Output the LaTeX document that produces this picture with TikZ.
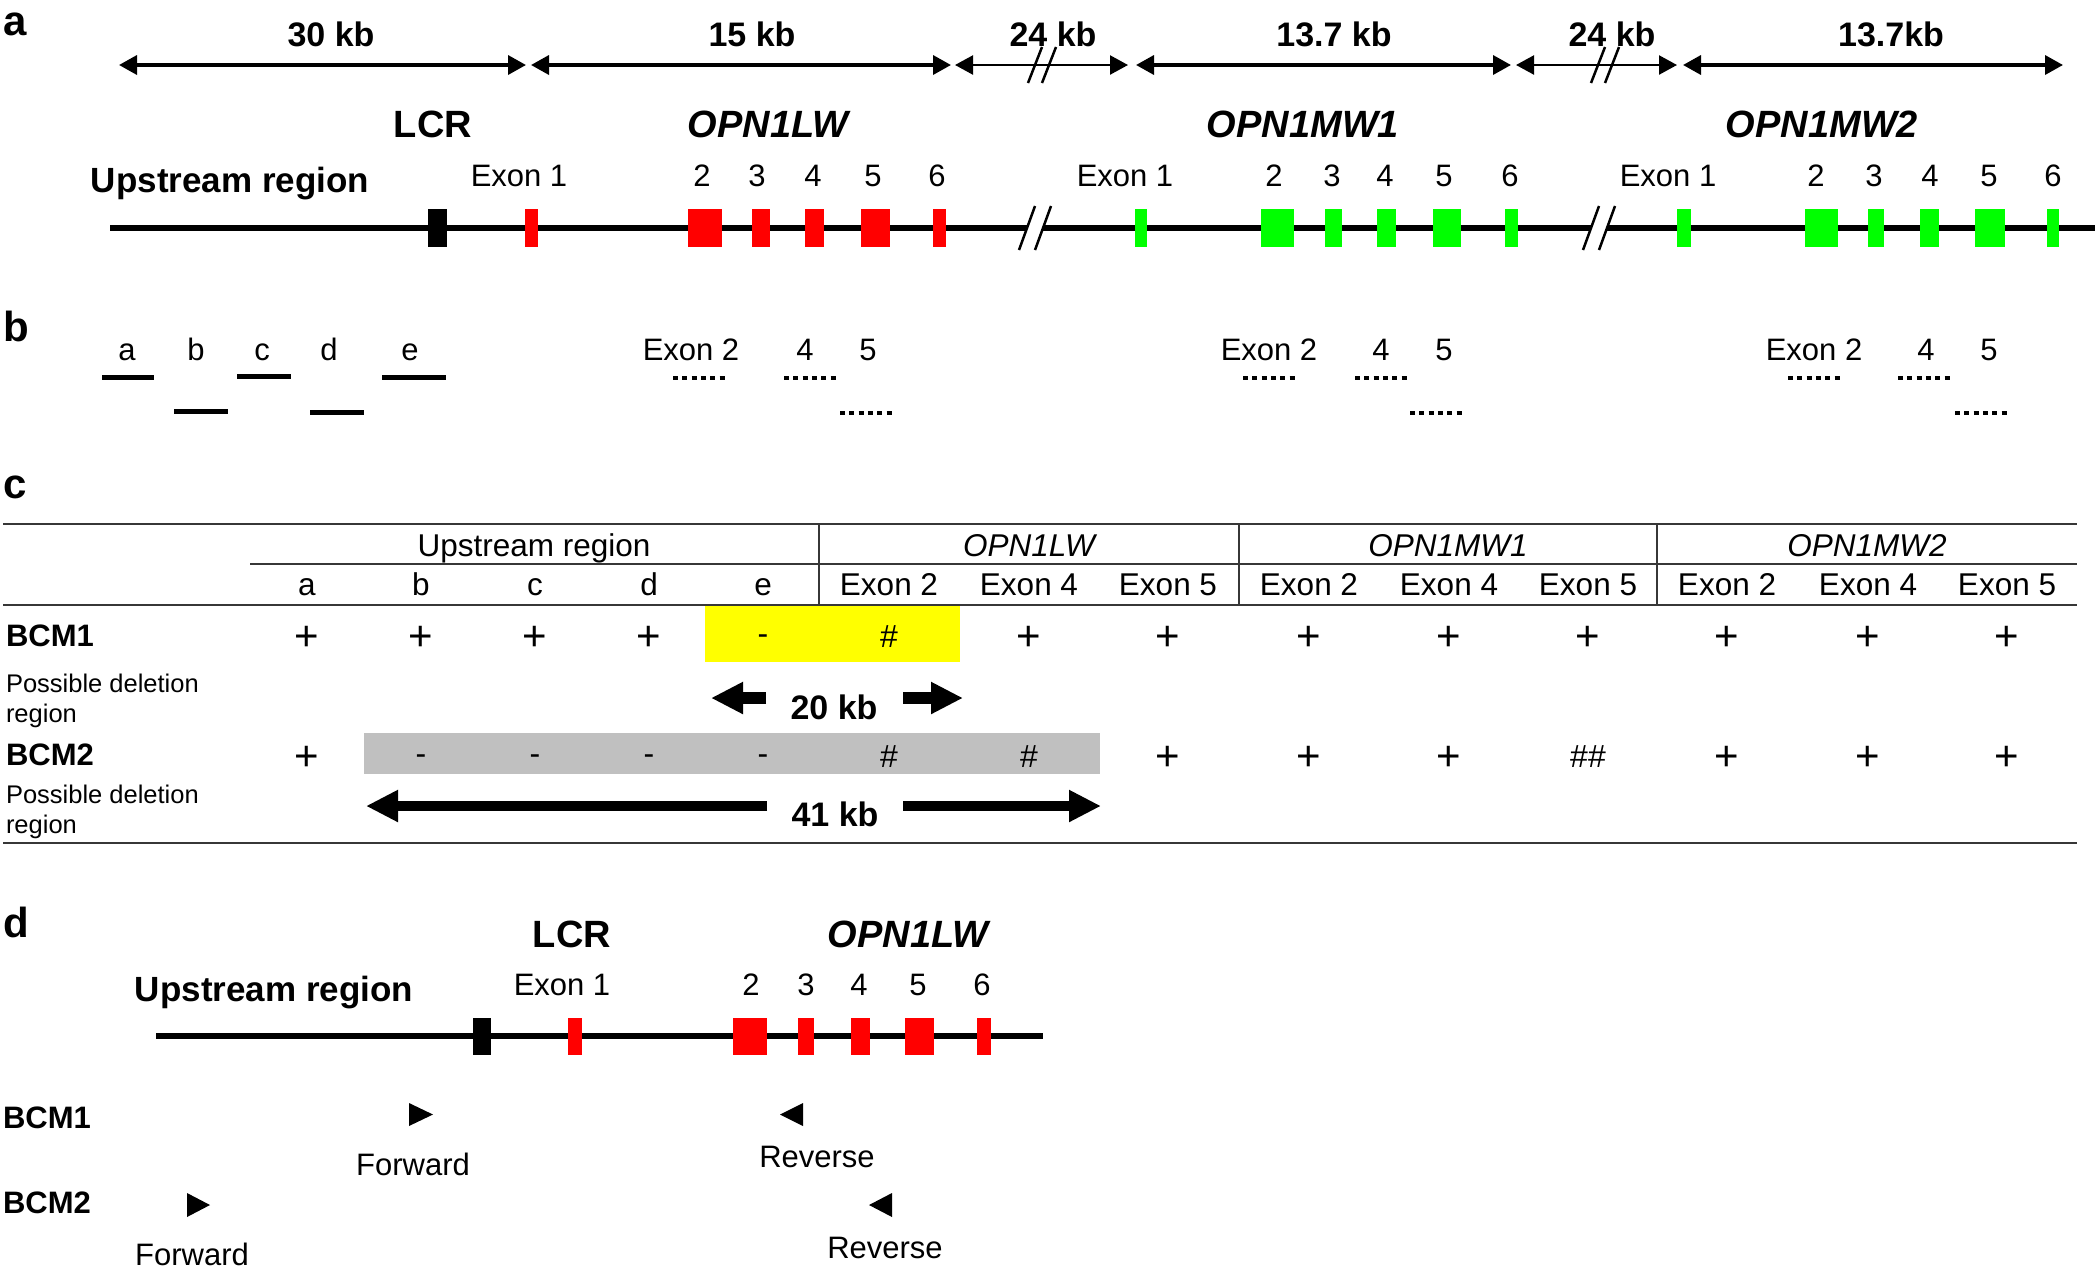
\documentclass[tikz,border=0pt]{standalone}
\usepackage{fontspec}
\setmainfont{Liberation Sans}
\usetikzlibrary{arrows.meta}
\definecolor{exred}{RGB}{255,0,0}
\definecolor{exgreen}{RGB}{0,255,0}
\definecolor{hlyellow}{RGB}{255,255,0}
\definecolor{hlgray}{RGB}{192,192,192}
\definecolor{rulec}{RGB}{55,55,55}
\newcommand\myfs[1]{\fontsize{#1}{#1}\selectfont}
\begin{document}
\begin{tikzpicture}[x=1pt,y=-1pt,
  every node/.style={inner sep=0pt,outer sep=0pt},
  panellab/.style={font=\myfs{42}\bfseries, anchor=base west},
  kblab/.style={font=\myfs{34}\bfseries, anchor=base},
  genename/.style={font=\myfs{38}\bfseries\itshape, anchor=base},
  lcrlab/.style={font=\myfs{38}\bfseries, anchor=base},
  upslab/.style={font=\myfs{35}\bfseries, anchor=base},
  exlab/.style={font=\myfs{31}, anchor=base},
  tablab/.style={font=\myfs{31.5}, anchor=base},
  tabit/.style={font=\myfs{31.5}\itshape, anchor=base},
  bcmlab/.style={font=\myfs{31}\bfseries, anchor=base west},
  smalllab/.style={font=\myfs{25.5}, anchor=base west},
  plussym/.style={font=\myfs{42}, anchor=base},
  othersym/.style={font=\myfs{32}, anchor=base},
  primerlab/.style={font=\myfs{31}, anchor=base},
  kbarrow/.style={line width=3.5pt, {Triangle[length=18pt,width=19pt]}-{Triangle[length=18pt,width=19pt]}},
  kbthin/.style={line width=2.3pt, {Triangle[length=18pt,width=19pt]}-{Triangle[length=18pt,width=19pt]}},
  slash/.style={line width=2.5pt},
  geneline/.style={line width=6.5pt},
  probe/.style={line width=5pt},
  dotprobe/.style={line width=4.5pt, dash pattern=on 5pt off 4.3pt},
  fatarrow/.style={line width=12pt, -{Triangle[length=32pt,width=30pt]}},
  fatarrowb/.style={line width=10pt, -{Triangle[length=32pt,width=30pt]}},
  tabrule/.style={draw=rulec, line width=2.8pt},
  tabthin/.style={draw=rulec, line width=2pt}
]
\useasboundingbox (0,0) rectangle (2100,1270);

% ================= panel a =================
\node[panellab] (pa) at (3,35) {a};

\node[kblab] (kb1) at (331,46) {30 kb};
\node[kblab] (kb2) at (752,46) {15 kb};
\node[kblab] (kb3) at (1053,46) {24 kb};
\node[kblab] (kb4) at (1334,46) {13.7 kb};
\node[kblab] (kb5) at (1612,46) {24 kb};
\node[kblab] (kb6) at (1891,46) {13.7kb};

\coordinate (a1s) at (119,65);  \coordinate (a1e) at (526,65);
\coordinate (a2s) at (531,65);  \coordinate (a2e) at (951,65);
\coordinate (a3s) at (955,65);  \coordinate (a3e) at (1128,65);
\coordinate (a4s) at (1136,65); \coordinate (a4e) at (1511,65);
\coordinate (a5s) at (1516,65); \coordinate (a5e) at (1677,65);
\coordinate (a6s) at (1683,65); \coordinate (a6e) at (2063,65);
\draw[kbarrow] (a1s) -- (a1e);
\draw[kbarrow] (a2s) -- (a2e);
\draw[kbthin] (a3s) -- (a3e);
\draw[kbarrow] (a4s) -- (a4e);
\draw[kbthin] (a5s) -- (a5e);
\draw[kbarrow] (a6s) -- (a6e);
\draw[slash] (1028,83) -- (1042,47);
\draw[slash] (1042,83) -- (1056,47);
\draw[slash] (1591,83) -- (1605,47);
\draw[slash] (1605,83) -- (1619,47);

\node[lcrlab] (lcrA) at (433,137) {LCR};
\node[genename] (lwA) at (768,137) {OPN1LW};
\node[genename] (mw1A) at (1303,137) {OPN1MW1};
\node[genename] (mw2A) at (1822,137) {OPN1MW2};
\node[upslab] (upsA) at (230,192) {Upstream region};

\node[exlab] (lwE1) at (519,186) {Exon 1};
\node[exlab] (lwE2) at (702,186) {2};
\node[exlab] (lwE3) at (757,186) {3};
\node[exlab] (lwE4) at (813,186) {4};
\node[exlab] (lwE5) at (873,186) {5};
\node[exlab] (lwE6) at (937,186) {6};
\node[exlab] (m1E1) at (1125,186) {Exon 1};
\node[exlab] (m1E2) at (1274,186) {2};
\node[exlab] (m1E3) at (1332,186) {3};
\node[exlab] (m1E4) at (1385,186) {4};
\node[exlab] (m1E5) at (1444,186) {5};
\node[exlab] (m1E6) at (1510,186) {6};
\node[exlab] (m2E1) at (1668,186) {Exon 1};
\node[exlab] (m2E2) at (1816,186) {2};
\node[exlab] (m2E3) at (1874,186) {3};
\node[exlab] (m2E4) at (1930,186) {4};
\node[exlab] (m2E5) at (1989,186) {5};
\node[exlab] (m2E6) at (2053,186) {6};

\coordinate (gAs) at (110,228); \coordinate (gAe) at (2095,228);
\draw[geneline] (gAs) -- (gAe);
% breaks
\fill[white] (1019,252) -- (1035,204) -- (1051,204) -- (1035,252) -- cycle;
\draw[slash] (1019,250) -- (1035,206);
\draw[slash] (1035,250) -- (1051,206);
\fill[white] (1583,252) -- (1599,204) -- (1615,204) -- (1599,252) -- cycle;
\draw[slash] (1583,250) -- (1599,206);
\draw[slash] (1599,250) -- (1615,206);

\fill[black] (428,209) rectangle (447,247);
\foreach \xa/\xb in {525/538,688/722,752/770,805/824,861/890,933/946}
  \fill[exred] (\xa,209) rectangle (\xb,247);
\foreach \xa/\xb in {1135/1147,1261/1294,1325/1342,1377/1396,1433/1461,1505/1518,
                     1677/1691,1805/1838,1868/1884,1920/1939,1975/2005,2047/2059}
  \fill[exgreen] (\xa,209) rectangle (\xb,247);

% ================= panel b =================
\node[panellab] (pb) at (3,341) {b};
\node[exlab] (pla) at (127,360) {a};
\node[exlab] (plb) at (196,360) {b};
\node[exlab] (plc) at (262,360) {c};
\node[exlab] (pld) at (329,360) {d};
\node[exlab] (ple) at (410,360) {e};
\draw[probe] (102,377) -- (154,377);
\draw[probe] (174,411) -- (228,411);
\draw[probe] (237,376) -- (291,376);
\draw[probe] (310,412) -- (364,412);
\draw[probe] (382,377) -- (446,377);

\node[exlab] (bL2) at (691,360) {Exon 2};
\node[exlab] (bL4) at (805,360) {4};
\node[exlab] (bL5) at (868,360) {5};
\node[exlab] (bM12) at (1269,360) {Exon 2};
\node[exlab] (bM14) at (1381,360) {4};
\node[exlab] (bM15) at (1444,360) {5};
\node[exlab] (bM22) at (1814,360) {Exon 2};
\node[exlab] (bM24) at (1926,360) {4};
\node[exlab] (bM25) at (1989,360) {5};
\foreach \xa in {673,784,1243,1355,1788,1898}
  \draw[dotprobe] (\xa,378) -- ++(52,0);
\foreach \xa in {840,1410,1955}
  \draw[dotprobe] (\xa,413) -- ++(52,0);

% ================= panel c =================
\node[panellab] (pc) at (3,498) {c};
\fill[hlyellow] (705,605) rectangle (960,662);
\fill[hlgray] (364,733) rectangle (1100,774);

\draw[tabrule] (3,524) -- (2077,524);
\draw[tabthin] (250,564) -- (2077,564);
\draw[tabrule] (3,605) -- (2077,605);
\draw[tabrule] (3,843) -- (2077,843);
\foreach \xa in {819,1239,1657}
  \draw[tabthin] (\xa,524) -- (\xa,605);

\node[tablab] (hUp) at (534,556) {Upstream region};
\node[tabit] (hLW) at (1029,556) {OPN1LW};
\node[tabit] (hM1) at (1448,556) {OPN1MW1};
\node[tabit] (hM2) at (1867,556) {OPN1MW2};

\node[tablab] (ca) at (307,595) {a};
\node[tablab] (cb) at (421,595) {b};
\node[tablab] (cc) at (535,595) {c};
\node[tablab] (cd) at (649,595) {d};
\node[tablab] (ce) at (763,595) {e};
\foreach \xa [count=\i] in {889,1029,1168,1309,1449,1588,1727,1868,2007}{
  \pgfmathtruncatemacro\ex{mod(\i-1,3)==0 ? 2 : (mod(\i-1,3)==1 ? 4 : 5)}
  \node[tablab] (cx\i) at (\xa,595) {Exon \ex};
}

\node[bcmlab] (bcm1c) at (6,646) {BCM1};
\foreach \xa [count=\i] in {307,421,535,649,1029,1168,1309,1449,1588,1727,1868,2007}
  \node[plussym] (r1p\i) at (\xa,650) {+};
\node[othersym] (r1m) at (763,644) {-};
\node[othersym] (r1h) at (889,647) {\#};

\node[smalllab] (pd1a) at (6,692) {Possible deletion};
\node[smalllab] (pd1b) at (6,722) {region};

\coordinate (d20ls) at (766,698); \coordinate (d20lt) at (711,698);
\coordinate (d20rs) at (903,698); \coordinate (d20rt) at (963,698);
\draw[fatarrow] (d20ls) -- (d20lt);
\draw[fatarrow] (d20rs) -- (d20rt);
\node[kblab] (kb20) at (834,719) {20 kb};

\node[bcmlab] (bcm2c) at (6,765) {BCM2};
\foreach \xa [count=\i] in {307,1168,1309,1449,1727,1868,2007}
  \node[plussym] (r2p\i) at (\xa,770) {+};
\foreach \xa [count=\i] in {421,535,649,763}
  \node[othersym] (r2m\i) at (\xa,764) {-};
\node[othersym] (r2h1) at (889,767) {\#};
\node[othersym] (r2h2) at (1029,767) {\#};
\node[othersym] (r2h3) at (1588,767) {\#\#};

\node[smalllab] (pd2a) at (6,803) {Possible deletion};
\node[smalllab] (pd2b) at (6,833) {region};

\coordinate (d41ls) at (767,806); \coordinate (d41lt) at (366,806);
\coordinate (d41rs) at (903,806); \coordinate (d41rt) at (1101,806);
\draw[fatarrowb] (d41ls) -- (d41lt);
\draw[fatarrowb] (d41rs) -- (d41rt);
\node[kblab] (kb41) at (835,826) {41 kb};

% ================= panel d =================
\node[panellab] (pd) at (3,937) {d};
\node[lcrlab] (lcrD) at (572,947) {LCR};
\node[genename] (lwD) at (908,947) {OPN1LW};
\node[upslab] (upsD) at (274,1001) {Upstream region};
\node[exlab] (dE1) at (562,995) {Exon 1};
\node[exlab] (dE2) at (751,995) {2};
\node[exlab] (dE3) at (806,995) {3};
\node[exlab] (dE4) at (859,995) {4};
\node[exlab] (dE5) at (918,995) {5};
\node[exlab] (dE6) at (982,995) {6};

\coordinate (gDs) at (156,1036); \coordinate (gDe) at (1043,1036);
\draw[geneline] (gDs) -- (gDe);
\fill[black] (473,1018) rectangle (491,1055);
\foreach \xa/\xb in {568/582,733/767,798/814,851/870,905/934,977/991}
  \fill[exred] (\xa,1018) rectangle (\xb,1055);

\node[bcmlab] (bcm1d) at (3,1128) {BCM1};
\node[bcmlab] (bcm2d) at (3,1213) {BCM2};

\fill (409,1103) -- (433,1114.5) -- (409,1126) -- cycle;
\fill (803,1103) -- (780,1114.5) -- (803,1126) -- cycle;
\fill (187,1193) -- (210,1205) -- (187,1217) -- cycle;
\fill (892,1193) -- (869,1205) -- (892,1217) -- cycle;

\node[primerlab] (fw1) at (413,1175) {Forward};
\node[primerlab] (rv1) at (817,1167) {Reverse};
\node[primerlab] (fw2) at (192,1265) {Forward};
\node[primerlab] (rv2) at (885,1258) {Reverse};
\end{tikzpicture}
\end{document}
